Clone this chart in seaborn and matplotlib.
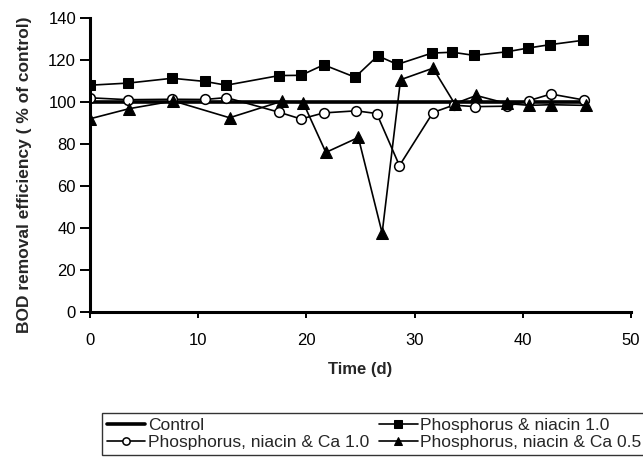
import matplotlib
matplotlib.use("Agg")
import matplotlib.pyplot as plt
import seaborn as sns
import numpy as np

# ---- data ----
control_days = [0, 46]
control_vals = [100, 100]

days_pn = [0, 3.5, 7.6, 10.6, 12.6, 17.5, 19.5, 21.6, 24.5, 26.6, 28.4, 31.6, 33.5, 35.5, 38.5, 40.5, 42.5, 45.6]
pn_10 = [108, 109, 111.3, 109.8, 108, 112.6, 112.7, 117.7, 111.8, 122, 117.9, 123.3, 123.7, 122.2, 123.9, 125.7, 127.3, 129.4]

days_pnca10 = [0, 3.5, 7.6, 10.6, 12.6, 17.5, 19.5, 21.6, 24.6, 26.5, 28.6, 31.7, 33.6, 35.6, 38.5, 40.6, 42.6, 45.7]
pnca_10 = [102, 101.1, 101.3, 101.2, 102.1, 95.1, 91.9, 94.8, 95.8, 94.5, 69.7, 95, 98.5, 97.8, 98, 100.7, 103.8, 100.9]

days_pnca05 = [0, 3.6, 7.7, 12.9, 17.7, 19.7, 21.8, 24.8, 27.0, 28.7, 31.7, 33.7, 35.7, 38.5, 40.6, 42.6, 45.8]
pnca_05 = [92, 96.8, 100.5, 92.5, 100.3, 99.7, 76, 83.1, 37.6, 110.6, 116.1, 99.2, 103.1, 99.3, 98.4, 98.7, 98.4]

xticks = [0, 10, 20, 30, 40, 50]
yticks = [0, 20, 40, 60, 80, 100, 120, 140]

sns.set_theme(style="ticks")
plt.rcParams['font.family'] = ['Liberation Sans', 'DejaVu Sans']

fig = plt.figure(figsize=(6.43, 4.62), dpi=100)
ax = fig.add_axes([90/643, 1-312/462, (631-90)/643, (312-18)/462])

sns.lineplot(x=control_days, y=control_vals, ax=ax, color='black', lw=2.6,
             label='Control')
sns.lineplot(x=days_pn, y=pn_10, ax=ax, color='black', lw=1.2, marker='s',
             markersize=7, markeredgecolor='black', markerfacecolor='black',
             label='Phosphorus & niacin 1.0')
sns.lineplot(x=days_pnca10, y=pnca_10, ax=ax, color='black', lw=1.2, marker='o',
             markersize=7, markeredgecolor='black', markerfacecolor='white',
             markeredgewidth=1.1, label='Phosphorus, niacin & Ca 1.0')
sns.lineplot(x=days_pnca05, y=pnca_05, ax=ax, color='black', lw=1.2, marker='^',
             markersize=8, markeredgecolor='black', markerfacecolor='black',
             label='Phosphorus, niacin & Ca 0.5')

ax.set_xlim(0, 50)
ax.set_ylim(0, 140)
ax.set_xticks(xticks)
ax.set_yticks(yticks)
ax.tick_params(direction='out', width=1.4, labelsize=12, colors='black')
ax.tick_params(axis='x', length=4, pad=11)
ax.tick_params(axis='y', length=7, pad=3)
for s in ['top', 'right']:
    ax.spines[s].set_visible(False)
for s in ['left', 'bottom']:
    ax.spines[s].set_linewidth(2.2)
    ax.spines[s].set_color('black')

ax.set_xlabel('Time (d)', fontsize=12, fontweight='bold', labelpad=10)
ax.set_ylabel('BOD removal efficiency ( % of control)', fontsize=12.5,
              fontweight='bold')
ax.yaxis.set_label_coords(-0.108, 0.466)

handles, labels = ax.get_legend_handles_labels()
order = [0, 2, 1, 3]
ax.legend([handles[i] for i in order], [labels[i] for i in order],
          ncol=2, loc='upper left', bbox_to_anchor=(93/643, 1-404/462),
          bbox_transform=fig.transFigure, frameon=True, fancybox=False,
          edgecolor='black', fontsize=12.5, handlelength=2.2, handletextpad=0.15,
          columnspacing=0.6, borderpad=0.3, labelspacing=0.1, markerscale=0.75)
leg = ax.get_legend()
leg.get_frame().set_linewidth(1.0)

fig.savefig('out.png', dpi=100, facecolor='white')
